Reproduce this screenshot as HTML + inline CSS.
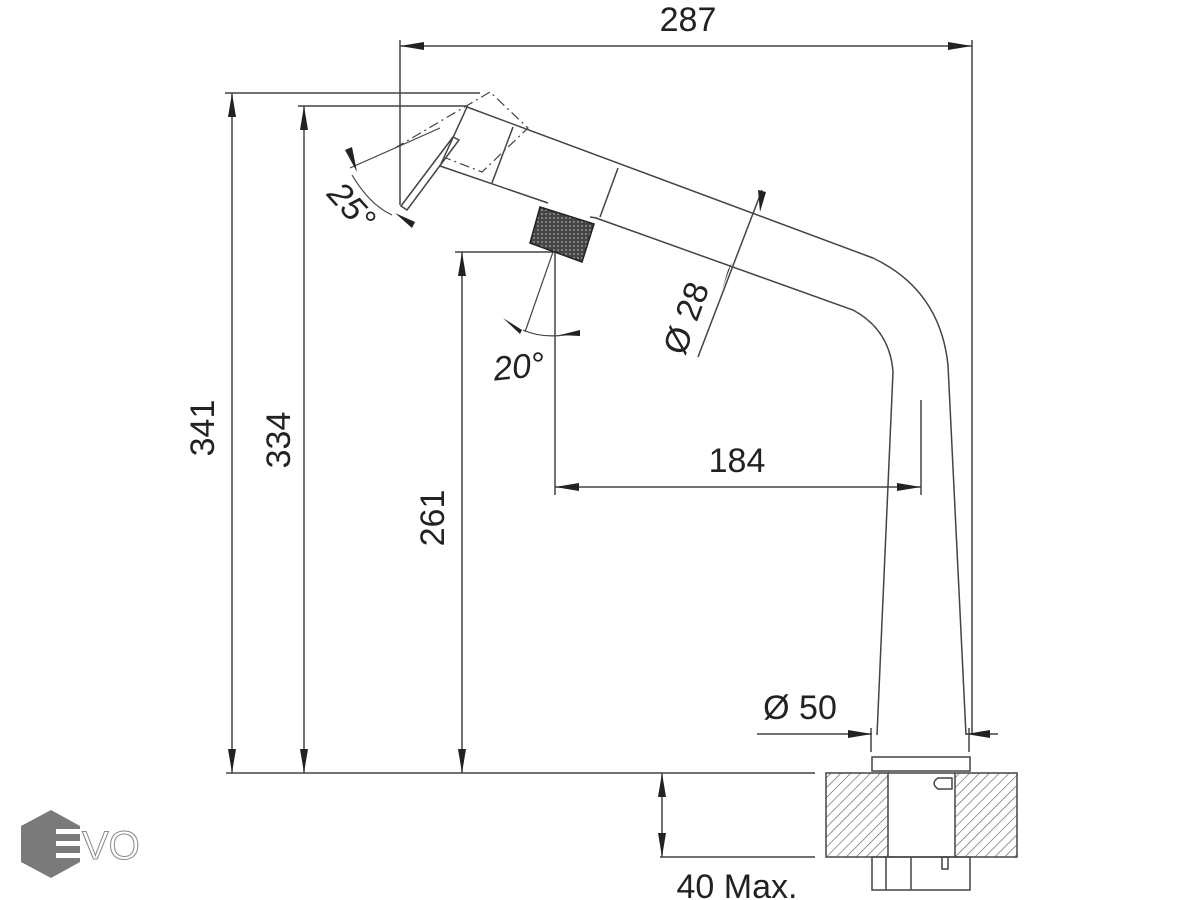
<!DOCTYPE html>
<html><head><meta charset="utf-8"><style>
html,body{margin:0;padding:0;background:#fff;}
svg{display:block;}
text{font-family:"Liberation Sans",Arial,sans-serif;fill:#222;}
</style></head><body>
<svg width="1200" height="900" viewBox="0 0 1200 900" xmlns="http://www.w3.org/2000/svg">
<defs>
<marker id="b" viewBox="0 0 24 10" refX="24" refY="5" markerWidth="24" markerHeight="10" markerUnits="userSpaceOnUse" orient="auto-start-reverse"><path d="M0,1 L24,5 L0,9z" fill="#222"/></marker>
<pattern id="h" width="7" height="7" patternUnits="userSpaceOnUse" patternTransform="rotate(45)"><rect width="7" height="7" fill="#fff"/><line x1="0" y1="0" x2="0" y2="7" stroke="#555" stroke-width="1.2"/></pattern>
<pattern id="k" width="4" height="4" patternUnits="userSpaceOnUse"><rect width="4" height="4" fill="#444"/><circle cx="2" cy="2" r="0.9" fill="#aaa"/></pattern>
</defs>
<g stroke="#444" stroke-width="1.5" fill="none">
<line x1="400" y1="40" x2="400" y2="205"/>
<line x1="972" y1="40" x2="972" y2="735"/>
<line x1="400" y1="46" x2="972" y2="46" marker-start="url(#b)" marker-end="url(#b)"/>
<line x1="225" y1="93" x2="480" y2="93"/>
<line x1="232" y1="93" x2="232" y2="773" marker-start="url(#b)" marker-end="url(#b)"/>
<line x1="298" y1="106" x2="468" y2="106"/>
<line x1="304" y1="106" x2="304" y2="773" marker-start="url(#b)" marker-end="url(#b)"/>
<line x1="455" y1="252" x2="553" y2="252"/>
<line x1="462" y1="252" x2="462" y2="773" marker-start="url(#b)" marker-end="url(#b)"/>
<line x1="226" y1="773" x2="815" y2="773"/>
<line x1="555" y1="252" x2="555" y2="495"/>
<line x1="921" y1="400" x2="921" y2="495"/>
<line x1="555" y1="487" x2="921" y2="487" marker-start="url(#b)" marker-end="url(#b)"/>
<line x1="660" y1="857" x2="815" y2="857"/>
<line x1="662" y1="773" x2="662" y2="857" marker-start="url(#b)" marker-end="url(#b)"/>
<line x1="757" y1="734" x2="872" y2="734" marker-end="url(#b)"/>
<line x1="998" y1="734" x2="966" y2="734" marker-end="url(#b)"/>
<line x1="871" y1="728" x2="871" y2="752"/>
<line x1="969" y1="728" x2="969" y2="752"/>
<line x1="698" y1="357" x2="762" y2="190"/>
</g>
<g fill="#222">
<polygon points="758,190 766,192 760,212"/>
<polygon points="728,270 732,262 722,290"/>
</g>
<g stroke="#444" stroke-width="1.5" fill="none">
<path d="M467,107 L873,258 Q940,290 948,365 L966,735"/>
<path d="M596,218 L853,310 Q890,330 893,372 L877,735"/>
<path d="M440,166 L548,203"/>
<path d="M467,107 L440,166"/>
<path d="M513,127 L492,183"/>
<path d="M618,168 L600,217"/>
<path d="M590,217 L597,218"/>
<path d="M453,137 L459,140 L407,210 L401,206 Z"/>
<path d="M395,148 L490,92 L528,128 L482,172 L446,158" stroke-dasharray="10,4,2,4" stroke-width="1.2"/>
<path d="M350,168 L440,128" stroke-width="1.2"/>
<path d="M352,175 Q370,205 392,215" stroke-width="1.2"/>
<line x1="553" y1="252" x2="525" y2="332" stroke-width="1.2"/>
<path d="M523,330 Q545,340 576,333" stroke-width="1.2"/>
<rect x="872" y="757" width="98" height="14"/>
</g>
<polygon points="345,150 352,147 357,172" fill="#222"/>
<polygon points="395,213 415,222 412,228" fill="#222"/>
<polygon points="503,318 522,330 520,334" fill="#222"/>
<polygon points="580,330 580,336 560,335" fill="#222"/>
<polygon points="540,207 594,224 582,262 530,243" fill="url(#k)" stroke="#222" stroke-width="1.5"/>
<rect x="826" y="773" width="62" height="84" fill="url(#h)" stroke="#444" stroke-width="1.5"/>
<rect x="955" y="773" width="62" height="84" fill="url(#h)" stroke="#444" stroke-width="1.5"/>
<g stroke="#444" stroke-width="1.5" fill="none">
<line x1="888" y1="773" x2="955" y2="773"/>
<line x1="888" y1="857" x2="955" y2="857"/>
<path d="M952,778 L938,778 Q930,783 938,789 L952,789 Z"/>
<rect x="872" y="857" width="98" height="33"/>
<line x1="886" y1="857" x2="886" y2="890"/>
<line x1="911" y1="857" x2="911" y2="890"/>
<rect x="942" y="857" width="6" height="12"/>
</g>
<text x="688" y="31" font-size="34" text-anchor="middle">287</text>
<text transform="translate(214,428) rotate(-90)" font-size="34" text-anchor="middle">341</text>
<text transform="translate(290,440) rotate(-90)" font-size="34" text-anchor="middle">334</text>
<text transform="translate(444,518) rotate(-90)" font-size="34" text-anchor="middle">261</text>
<text x="737" y="472" font-size="34" text-anchor="middle">184</text>
<text transform="translate(697,322) rotate(-70)" font-size="34" text-anchor="middle">Ø 28</text>
<text x="800" y="719" font-size="34" text-anchor="middle">Ø 50</text>
<text x="737" y="898" font-size="34" text-anchor="middle">40 Max.</text>
<text transform="translate(343,214) rotate(48)" font-size="34" font-style="italic" text-anchor="middle">25°</text>
<text transform="translate(520,378) rotate(-6)" font-size="34" font-style="italic" text-anchor="middle">20°</text>
<polygon points="51,810 80,826 80,862 51,878 21,862 21,826" fill="#7a7a7a"/>
<g fill="#fff"><rect x="56" y="829" width="26" height="5"/><rect x="56" y="841" width="26" height="5"/><rect x="56" y="853" width="26" height="5"/></g>
<text x="82" y="859" font-size="40" stroke="#888" stroke-width="1" style="fill:#fff">VO</text>
</svg>
</body></html>
